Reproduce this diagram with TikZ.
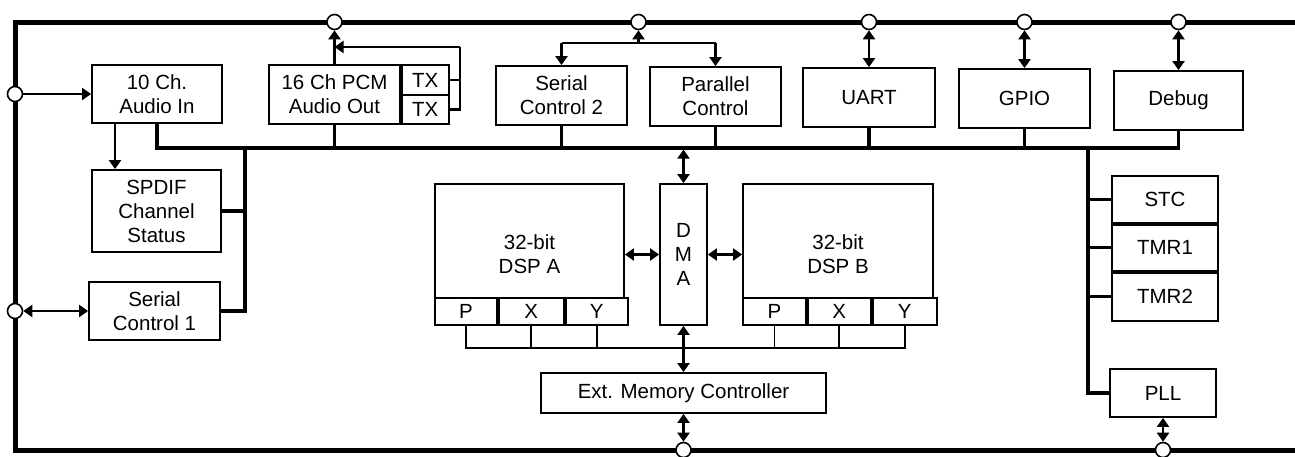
\documentclass[tikz,border=0pt]{standalone}
\usepackage{fontspec}
\setmainfont{Liberation Sans}
\usetikzlibrary{arrows.meta,calc}
\begin{document}
\begin{tikzpicture}[x=1pt,y=-1pt,
  blk/.style={draw,line width=1.8pt,inner sep=0pt,align=center,fill=white,font=\fontsize{20.5}{24}\selectfont},
  jn/.style={circle,draw,line width=1.6pt,fill=white,minimum size=15pt,inner sep=0pt},
  busl/.style={line width=3.2pt},
  thinl/.style={line width=1.8pt},
  arr/.style={line width=2.1pt,-{Triangle[length=9pt,width=12pt]}},
  darr/.style={line width=2.1pt,{Triangle[length=9pt,width=12pt]}-{Triangle[length=9pt,width=12pt]}},
  framel/.style={line width=5pt,line join=miter}]
\useasboundingbox (0,0) rectangle (1295,456);
% outer frame
\draw[framel] (1295,22) -- (15,22) -- (15,450) -- (1295,450);
% blocks
\node[blk,minimum width=130pt,minimum height=58pt] (ain) at (157,94) {10 Ch.\\Audio In};
\node[blk,minimum width=131pt,minimum height=59pt] (pcm) at (334.5,94.5) {16 Ch PCM\\Audio Out};
\node[blk,minimum width=47pt,minimum height=30pt,anchor=north west] (tx1) at (pcm.north east) {TX};
\node[blk,minimum width=47pt,minimum height=29pt,anchor=south west] (tx2) at (pcm.south east) {TX};
\node[blk,minimum width=129pt,minimum height=82pt] (spdif) at (156.5,211) {SPDIF\\Channel\\Status};
\node[blk,minimum width=131pt,minimum height=58pt] (sc1) at (154.5,311) {Serial\\Control 1};
\node[blk,minimum width=131pt,minimum height=59pt] (sc2) at (561.5,95.5) {Serial\\Control 2};
\node[blk,minimum width=131pt,minimum height=59pt] (par) at (715.5,96.5) {Parallel\\Control};
\node[blk,minimum width=132pt,minimum height=59pt] (uart) at (869,97.5) {UART};
\node[blk,minimum width=131pt,minimum height=59pt] (gpio) at (1024.5,98.5) {GPIO};
\node[blk,minimum width=129pt,minimum height=59pt] (debug) at (1178.5,100.5) {Debug};
\node[blk,minimum width=47pt,minimum height=141pt] (dma) at (683.5,254.5) {D\\M\\A};
\node[blk,minimum width=189pt,minimum height=141pt] (dspa) at (529.5,254.5) {32-bit\\DSP A};
\node[blk,minimum width=62pt,minimum height=27pt,anchor=south west] (pa) at (dspa.south west) {P};
\node[blk,minimum width=65pt,minimum height=27pt,anchor=south west] (xa) at (pa.south east) {X};
\node[blk,minimum width=62pt,minimum height=27pt,anchor=south west] (ya) at (xa.south east) {Y};
\node[blk,minimum width=190pt,minimum height=141pt] (dspb) at (838,254.5) {32-bit\\DSP B};
\node[blk,minimum width=63pt,minimum height=27pt,anchor=south west] (pb) at (dspb.south west) {P};
\node[blk,minimum width=63pt,minimum height=27pt,anchor=south west] (xb) at (pb.south east) {X};
\node[blk,minimum width=64pt,minimum height=27pt,anchor=south west] (yb) at (xb.south east) {Y};
\node[blk,minimum width=285pt,minimum height=40pt] (ext) at (683.5,393) {Ext. Memory Controller};
\node[blk,minimum width=106pt,minimum height=47pt] (stc) at (1165,199.5) {STC};
\node[blk,minimum width=106pt,minimum height=46pt,anchor=north] (tmr1) at (stc.south) {TMR1};
\node[blk,minimum width=106pt,minimum height=48pt,anchor=north] (tmr2) at (tmr1.south) {TMR2};
\node[blk,minimum width=106pt,minimum height=48pt] (pll) at (1163,393) {PLL};
% junction circles
\node[jn] (cL1) at (15,94) {};
\node[jn] (cL2) at (15,311) {};
\node[jn] (cT1) at (334.5,22) {};
\node[jn] (cT2) at (638.5,22) {};
\node[jn] (cT3) at (869,22) {};
\node[jn] (cT4) at (1024.5,22) {};
\node[jn] (cT5) at (1178.5,22) {};
\node[jn] (cB1) at (683.5,450) {};
\node[jn] (cB2) at (1163,450) {};
% internal bus
\coordinate (bL) at (157,148);
\coordinate (bR) at (1178.5,148);
\draw[busl] (ain.south) -- (ain.south |- bL) -- (bR) -- (debug.south);
\foreach \n in {pcm,sc2,par,uart,gpio} \draw[busl] (\n.south) -- (\n.south |- bL);
\coordinate (lb) at (245,148);
\draw[busl] (lb) -- (lb |- sc1.east) -- (sc1.east);
\draw[busl] (spdif.east) -- (spdif.east -| lb);
\coordinate (rb) at (1088,148);
\draw[busl] (rb) -- (rb |- pll.west) -- (pll.west);
\foreach \n in {stc,tmr1,tmr2} \draw[busl] (\n.west -| rb) -- (\n.west);
% left side
\draw[arr] (cL1) -- (cL1 -| ain.west);
\draw[darr] (cL2) -- (sc1.west);
\draw[arr] ([xshift=-42pt]ain.south) -- ([xshift=-42pt]ain.south |- spdif.north);
% audio out
\draw[arr] (pcm.north) -- (cT1);
\coordinate (fb) at (460,47);
\draw[line width=2.1pt] (tx1.east) -- (tx1.east -| fb);
\draw[line width=2.1pt] (tx2.east) -- (tx2.east -| fb) -- (fb);
\draw[arr] (fb) -- (fb -| pcm.north);
% serial control 2 / parallel
\coordinate (sp) at (638.5,43);
\draw[arr] (sp) -- (cT2);
\draw[line width=2.1pt] (sc2.north |- sp) -- (par.north |- sp);
\draw[arr] (sc2.north |- sp) -- (sc2.north);
\draw[arr] (par.north |- sp) -- (par.north);
% peripherals
\draw[darr] (cT3) -- (uart.north);
\draw[darr] (cT4) -- (gpio.north);
\draw[darr] (cT5) -- (debug.north);
% DMA
\draw[darr] ([yshift=-1.6pt]dma.north |- bL) -- (dma.north);
\draw[darr] (dma.west) -- (dma.west -| dspa.east);
\draw[darr] (dma.east) -- (dma.east -| dspb.west);
% memory lines
\coordinate (ml) at (0,348);
\draw[thinl] (pa.south) -- (pa.south |- ml) -- (yb.south |- ml) -- (yb.south);
\foreach \n in {xa,ya,pb,xb} \draw[thinl] (\n.south) -- (\n.south |- ml);
\draw[darr] (dma.south) -- (dma.south |- ext.north);
\draw[darr] (ext.south) -- (cB1);
\draw[darr] (pll.south) -- (cB2);
\end{tikzpicture}
\end{document}
